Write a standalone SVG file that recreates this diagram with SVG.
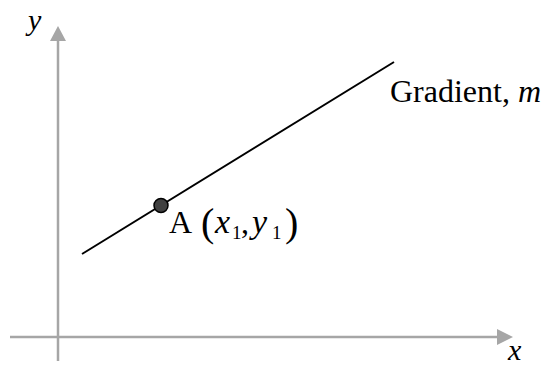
<svg xmlns="http://www.w3.org/2000/svg" width="542" height="365" viewBox="0 0 542 365">
<style>
.axis{stroke:#a6a6a6;stroke-width:2.5;fill:none}
.head{fill:#a6a6a6}
.t{font-family:"Liberation Serif","Times New Roman",serif;fill:#000}
.i{font-style:italic}
</style>
<rect width="542" height="365" fill="#fff"/>
<g id="axes">
<line class="axis" x1="58" y1="361" x2="58" y2="40"/>
<polygon class="head" points="58,26 50,41 66,41"/>
<line class="axis" x1="10" y1="337" x2="498" y2="337"/>
<polygon class="head" points="513,337 497,329 497,345"/>
<text class="t i" x="28" y="30" font-size="30">y</text>
<text class="t i" x="508" y="360" font-size="30">x</text>
</g>
<g id="connectors">
<line x1="82" y1="254" x2="394" y2="62" stroke="#000" stroke-width="2"/>
</g>
<g id="pointA">
<circle cx="161" cy="205.5" r="7" fill="#404040" stroke="#000" stroke-width="1.5"/>
<text class="t" x="169" y="233" font-size="32">A</text>
<text class="t" x="201" y="236" font-size="40">(</text>
<text class="t i" x="215" y="233" font-size="34">x</text>
<text class="t" x="232" y="239" font-size="19">1</text>
<text class="t" x="241" y="233" font-size="32">,</text>
<text class="t i" x="252" y="233" font-size="34">y</text>
<text class="t" x="272" y="239" font-size="19">1</text>
<text class="t" x="285" y="236" font-size="40">)</text>
</g>
<g id="gradient">
<text class="t" x="390" y="102" font-size="32">Gradient, <tspan class="i">m</tspan></text>
</g>
</svg>
